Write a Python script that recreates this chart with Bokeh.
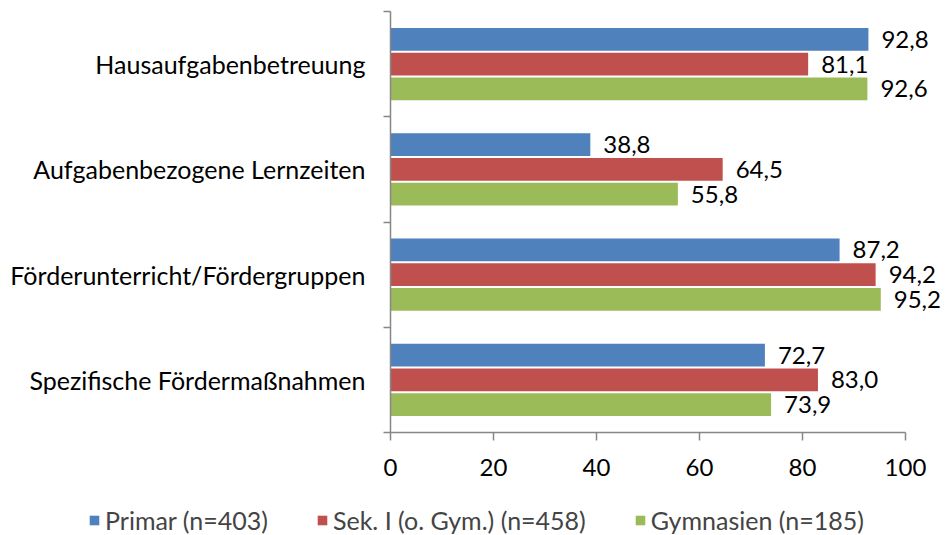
from bokeh.plotting import figure
from bokeh.models import (ColumnDataSource, Range1d, FixedTicker, LabelSet,
                          Legend, LegendItem)
from bokeh.core.properties import value
from bokeh.embed import file_html
from bokeh.resources import INLINE

# ---- data ----
categories = ["Hausaufgabenbetreuung", "Aufgabenbezogene Lernzeiten",
              "Förderunterricht/Fördergruppen", "Spezifische Fördermaßnahmen"]
series_names = ["Primar (n=403)", "Sek. I (o. Gym.) (n=458)", "Gymnasien (n=185)"]
primar = [92.8, 38.8, 87.2, 72.7]
sek1 = [81.1, 64.5, 94.2, 83.0]
gymnasien = [92.6, 55.8, 95.2, 73.9]
x_ticks = [0, 20, 40, 60, 80, 100]

colors = ["#4F81BD", "#C0504D", "#9BBB59"]
FONT = "Lato"
FS_CAT = "25px"
FS_VAL = "24px"
AXIS_COLOR = "#868686"

n = len(categories)
centers = [n - 0.5 - i for i in range(n)]   # top category first
offsets = [0.236, 0.0, -0.236]
bar_h = 0.216

# frame covers the whole canvas; axes are placed at value 0 inside it
W, H = 945, 535
PX_X = 5.15      # px per percent
PX_Y = 105.25    # px per category
X0, Y0 = 390, 432
p = figure(width=W, height=H, output_backend="svg", toolbar_location=None,
           x_range=Range1d(-X0 / PX_X, (W - X0) / PX_X),
           y_range=Range1d(-(H - Y0) / PX_Y, n + 11 / PX_Y),
           min_border=0)
p.outline_line_color = None
p.grid.visible = False
p.background_fill_color = "white"
p.border_fill_color = "white"

renderers = []
for vals, off, col in zip([primar, sek1, gymnasien], offsets, colors):
    src = ColumnDataSource(dict(
        y=[c + off for c in centers],
        v=vals,
        t=[f"{v:.1f}".replace(".", ",") for v in vals],
    ))
    r = p.hbar(y="y", right="v", left=0, height=bar_h, source=src,
               fill_color=col, line_color=None)
    renderers.append(r)
    lbl = LabelSet(x="v", y="y", text="t", source=src, x_offset=13,
                   text_baseline="middle", text_align="left",
                   text_font=value(FONT), text_font_size=value(FS_VAL),
                   text_color="black")
    p.add_layout(lbl)

# x axis
xa = p.xaxis[0]
xa.fixed_location = 0
xa.ticker = FixedTicker(ticks=x_ticks)
xa.bounds = (0, 100)
xa.axis_line_color = AXIS_COLOR
xa.axis_line_width = 1.5
xa.major_tick_line_color = AXIS_COLOR
xa.major_tick_line_width = 1.5
xa.major_tick_out = 8
xa.major_tick_in = 0
xa.minor_tick_line_color = None
xa.major_label_text_font = FONT
xa.major_label_text_font_size = FS_VAL
xa.major_label_text_color = "black"
xa.major_label_standoff = 18

# y axis
ya = p.yaxis[0]
ya.fixed_location = 0
ya.ticker = FixedTicker(ticks=centers, minor_ticks=list(range(n + 1)))
ya.bounds = (0, n)
ya.major_label_overrides = {c: categories[i] for i, c in enumerate(centers)}
ya.axis_line_color = AXIS_COLOR
ya.axis_line_width = 1.5
ya.major_tick_line_color = None
ya.major_tick_out = 0
ya.major_tick_in = 0
ya.minor_tick_line_color = AXIS_COLOR
ya.minor_tick_line_width = 1.5
ya.minor_tick_out = 7
ya.minor_tick_in = 0
ya.major_label_text_font = FONT
ya.major_label_text_font_size = FS_CAT
ya.major_label_text_color = "black"
ya.major_label_standoff = 18

legend = Legend(items=[LegendItem(label=s, renderers=[r])
                       for s, r in zip(series_names, renderers)],
                orientation="horizontal", location=(88, 0),
                glyph_width=12, glyph_height=12, label_standoff=5,
                spacing=48, padding=0, margin=0,
                border_line_color=None, background_fill_alpha=0,
                label_text_font=FONT, label_text_font_size=FS_CAT,
                label_height=20)
p.add_layout(legend)

open("out.html", "w").write(file_html(p, INLINE))
